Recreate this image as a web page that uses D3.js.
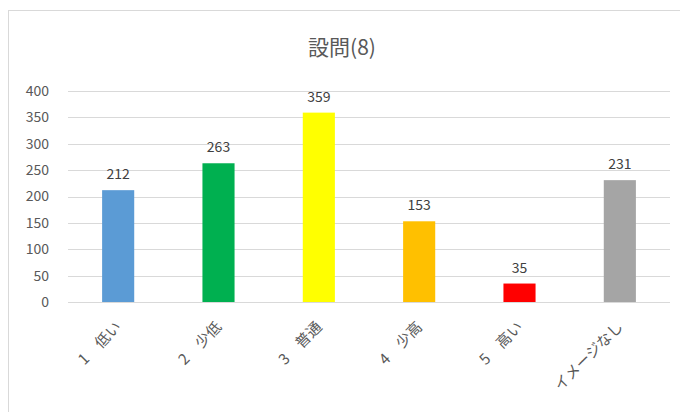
<!DOCTYPE html>
<html>
<head>
<meta charset="utf-8">
<script src="https://cdn.jsdelivr.net/npm/d3@7"></script>
<style>
	body { margin: 0; background: #fff; }
	svg { display: block; font-family: "Noto Sans CJK JP", "Noto Sans", sans-serif; }
</style>
</head>
<body>
<div id="chart"></div>
<script>
const categories = ["1　低い", "2　少低", "3　普通", "4　少高", "5　高い", "イメージなし"]
const values = [212, 263, 359, 153, 35, 231]
const barColors = ["#5B9BD5", "#00B050", "#FFFF00", "#FFC000", "#FF0000", "#A5A5A5"]
const yTicks = [0, 50, 100, 150, 200, 250, 300, 350, 400]
const title = "設問(8)"

const width = 680
const height = 412
const marginLeft = 68
const marginRight = 10
const marginTop = 91
const plotBottom = 302

const svg = d3.select("#chart").append("svg").attr("width", width).attr("height", height)

// chart frame (runs off the right and bottom edge)
svg.append("rect")
	.attr("x", 8.5)
	.attr("y", 10.5)
	.attr("width", width + 20)
	.attr("height", height + 20)
	.attr("fill", "#fff")
	.attr("stroke", "#d9d9d9")

const x = d3
	.scaleBand()
	.domain(categories)
	.range([marginLeft, width - marginRight])
	.paddingInner(0.68)
	.paddingOuter(0.34)
const y = d3.scaleLinear().domain([0, 400]).range([plotBottom, marginTop])

svg.append("text")
	.attr("x", 342)
	.attr("y", 55)
	.attr("text-anchor", "middle")
	.attr("fill", "#595959")
	.attr("font-size", 21)
	.text(title)

// gridlines
svg.append("g")
	.selectAll("line")
	.data(yTicks)
	.join("line")
	.attr("x1", marginLeft)
	.attr("x2", width - marginRight)
	.attr("y1", d => Math.round(y(d)) + 0.5)
	.attr("y2", d => Math.round(y(d)) + 0.5)
	.attr("stroke", "#d9d9d9")

const yAxis = svg
	.append("g")
	.attr("transform", `translate(${marginLeft - 19},0)`)
	.call(d3.axisLeft(y).tickValues(yTicks).tickSize(0).tickPadding(0))
yAxis.select(".domain").remove()
yAxis.selectAll("text").attr("font-size", 14).attr("fill", "#595959").attr("font-family", "Noto Sans CJK JP")

svg.append("g")
	.selectAll("rect")
	.data(values)
	.join("rect")
	.attr("x", (d, i) => x(categories[i]))
	.attr("y", d => y(d))
	.attr("width", x.bandwidth())
	.attr("height", d => y(0) - y(d))
	.attr("fill", (d, i) => barColors[i])

svg.append("g")
	.selectAll("text")
	.data(values)
	.join("text")
	.attr("x", (d, i) => x(categories[i]) + x.bandwidth() / 2)
	.attr("y", d => y(d) - 11)
	.attr("text-anchor", "middle")
	.attr("font-size", 14)
	.attr("fill", "#404040")
	.text(d => d)

const xAxis = svg
	.append("g")
	.attr("transform", `translate(0,${plotBottom})`)
	.call(d3.axisBottom(x).tickSize(0).tickPadding(0))
xAxis.select(".domain").remove()
xAxis.selectAll("text")
	.attr("font-size", 15)
	.attr("fill", "#595959")
	.attr("font-family", "Noto Sans CJK JP")
	.attr("text-anchor", "end")
	.attr("dy", null)
	.attr("y", 0)
	.attr("transform", "translate(4,26) rotate(-45)")
</script>
</body>
</html>
